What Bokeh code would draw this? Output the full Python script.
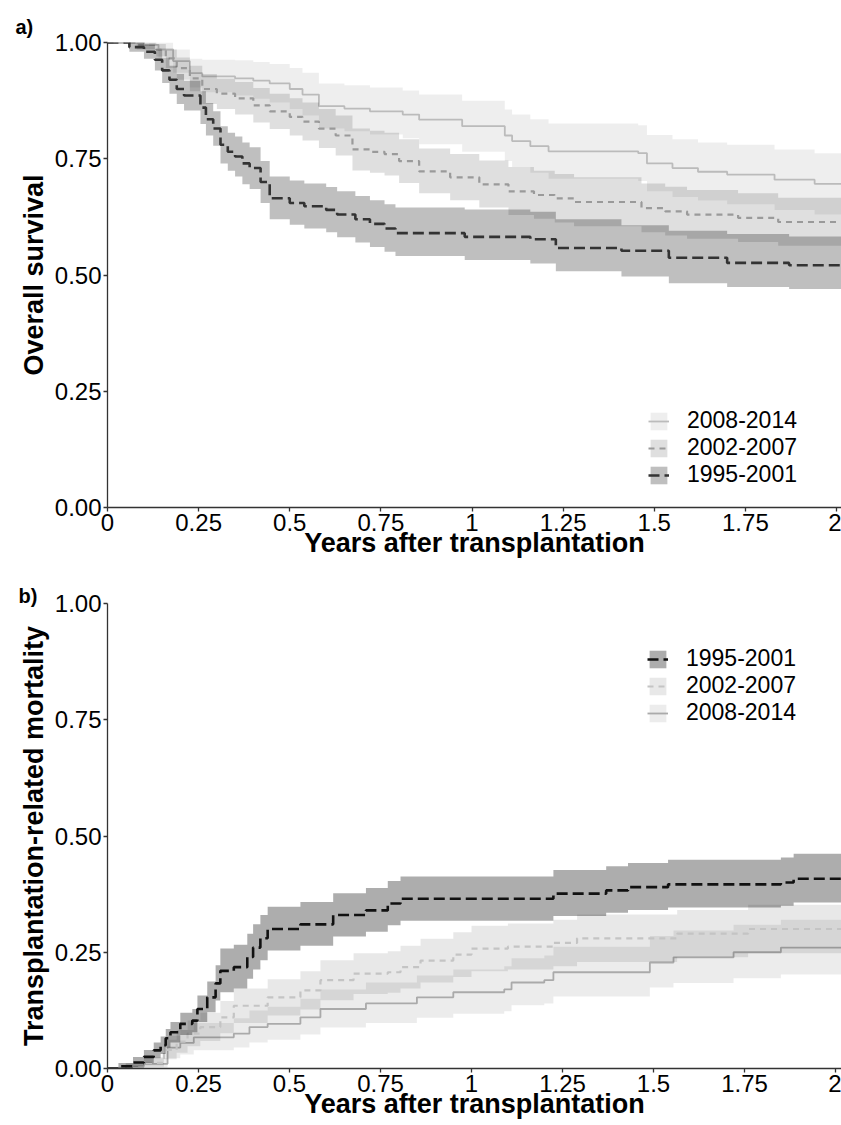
from bokeh.plotting import figure
from bokeh.models import Range1d, FixedTicker, Legend, LegendItem, Title
from bokeh.layouts import column
from bokeh.embed import file_html
from bokeh.resources import INLINE

FONT = "Liberation Sans"

# ---------------- data: panel a (overall survival) ----------------
x_ticks = [0, 0.25, 0.5, 0.75, 1, 1.25, 1.5, 1.75, 2]
x_tick_labels = ["0", "0.25", "0.5", "0.75", "1", "1.25", "1.5", "1.75", "2"]
y_ticks = [0, 0.25, 0.5, 0.75, 1]
y_tick_labels = ["0.00", "0.25", "0.50", "0.75", "1.00"]

os_1995_t = [0, 0.06, 0.10, 0.13, 0.15, 0.17, 0.19, 0.21, 0.255, 0.27, 0.29, 0.31, 0.33, 0.35, 0.37, 0.39, 0.42, 0.445, 0.50, 0.54, 0.60, 0.63, 0.68, 0.72, 0.76, 0.79, 0.98, 1.16, 1.23, 1.41, 1.54, 1.70, 1.87, 2.02]
os_1995_s = [1.0, 0.99, 0.98, 0.963, 0.94, 0.92, 0.90, 0.886, 0.86, 0.835, 0.815, 0.78, 0.765, 0.755, 0.74, 0.73, 0.70, 0.665, 0.655, 0.648, 0.64, 0.63, 0.62, 0.61, 0.60, 0.59, 0.582, 0.577, 0.558, 0.552, 0.537, 0.526, 0.521, 0.521]
os_1995_hi = [1.0, 1.0, 0.995, 0.985, 0.967, 0.95, 0.932, 0.918, 0.895, 0.87, 0.852, 0.82, 0.806, 0.798, 0.785, 0.775, 0.745, 0.712, 0.703, 0.697, 0.689, 0.68, 0.67, 0.661, 0.652, 0.645, 0.641, 0.636, 0.62, 0.607, 0.595, 0.588, 0.583, 0.583]
os_1995_lo = [1.0, 0.98, 0.965, 0.94, 0.913, 0.89, 0.868, 0.854, 0.825, 0.80, 0.778, 0.74, 0.724, 0.712, 0.695, 0.685, 0.655, 0.62, 0.608, 0.60, 0.592, 0.581, 0.57, 0.56, 0.55, 0.541, 0.532, 0.525, 0.508, 0.497, 0.482, 0.474, 0.47, 0.47]

os_2002_t = [0, 0.08, 0.134, 0.16, 0.19, 0.226, 0.26, 0.30, 0.35, 0.40, 0.445, 0.50, 0.535, 0.58, 0.626, 0.672, 0.72, 0.76, 0.80, 0.855, 0.94, 1.02, 1.10, 1.17, 1.227, 1.28, 1.465, 1.53, 1.59, 1.73, 1.84, 2.02]
os_2002_s = [1.0, 0.995, 0.985, 0.966, 0.945, 0.923, 0.90, 0.89, 0.88, 0.865, 0.852, 0.84, 0.83, 0.815, 0.80, 0.77, 0.765, 0.76, 0.745, 0.723, 0.71, 0.695, 0.68, 0.672, 0.665, 0.657, 0.644, 0.637, 0.63, 0.623, 0.614, 0.614]
os_2002_hi = [1.0, 1.0, 0.997, 0.985, 0.968, 0.95, 0.932, 0.922, 0.915, 0.902, 0.89, 0.88, 0.871, 0.857, 0.843, 0.815, 0.81, 0.806, 0.792, 0.772, 0.76, 0.746, 0.732, 0.724, 0.717, 0.71, 0.697, 0.69, 0.683, 0.676, 0.666, 0.666]
os_2002_lo = [1.0, 0.985, 0.97, 0.945, 0.92, 0.895, 0.868, 0.857, 0.845, 0.828, 0.814, 0.80, 0.789, 0.773, 0.757, 0.725, 0.72, 0.714, 0.698, 0.676, 0.661, 0.645, 0.629, 0.621, 0.613, 0.605, 0.592, 0.585, 0.578, 0.571, 0.563, 0.563]

os_2008_t = [0, 0.10, 0.14, 0.18, 0.226, 0.26, 0.35, 0.40, 0.445, 0.50, 0.535, 0.58, 0.65, 0.72, 0.81, 0.855, 0.973, 1.09, 1.11, 1.16, 1.21, 1.456, 1.48, 1.55, 1.62, 1.70, 1.83, 1.94, 2.02]
os_2008_s = [1.0, 0.995, 0.985, 0.96, 0.934, 0.927, 0.923, 0.918, 0.912, 0.90, 0.888, 0.863, 0.858, 0.852, 0.845, 0.834, 0.82, 0.80, 0.788, 0.777, 0.766, 0.762, 0.74, 0.73, 0.722, 0.716, 0.705, 0.696, 0.696]
os_2008_hi = [1.0, 1.0, 1.0, 0.985, 0.965, 0.963, 0.962, 0.958, 0.954, 0.945, 0.935, 0.912, 0.908, 0.903, 0.897, 0.888, 0.875, 0.856, 0.845, 0.835, 0.826, 0.822, 0.801, 0.792, 0.785, 0.78, 0.77, 0.762, 0.762]
os_2008_lo = [1.0, 0.985, 0.967, 0.935, 0.903, 0.893, 0.886, 0.879, 0.871, 0.857, 0.843, 0.815, 0.809, 0.802, 0.794, 0.781, 0.765, 0.745, 0.732, 0.72, 0.707, 0.702, 0.68, 0.668, 0.66, 0.652, 0.64, 0.63, 0.63]

# ---------------- data: panel b (transplantation-related mortality) ----------------
trm_1995_t = [0, 0.03, 0.07, 0.10, 0.127, 0.146, 0.16, 0.173, 0.20, 0.233, 0.247, 0.274, 0.297, 0.31, 0.347, 0.384, 0.40, 0.42, 0.44, 0.53, 0.62, 0.71, 0.77, 0.805, 1.225, 1.37, 1.43, 1.54, 1.85, 1.885, 2.02]
trm_1995_s = [0, 0.005, 0.013, 0.025, 0.039, 0.05, 0.065, 0.078, 0.096, 0.103, 0.128, 0.153, 0.183, 0.21, 0.218, 0.24, 0.26, 0.28, 0.30, 0.31, 0.33, 0.34, 0.355, 0.365, 0.376, 0.383, 0.39, 0.396, 0.40, 0.408, 0.408]
trm_1995_hi = [0, 0.012, 0.025, 0.04, 0.056, 0.069, 0.085, 0.10, 0.12, 0.128, 0.157, 0.187, 0.222, 0.258, 0.266, 0.29, 0.31, 0.33, 0.348, 0.358, 0.377, 0.388, 0.403, 0.413, 0.427, 0.435, 0.442, 0.449, 0.454, 0.462, 0.462]
trm_1995_lo = [0, 0.0, 0.004, 0.012, 0.022, 0.031, 0.045, 0.056, 0.072, 0.078, 0.10, 0.121, 0.146, 0.164, 0.172, 0.193, 0.213, 0.233, 0.254, 0.264, 0.284, 0.294, 0.308, 0.318, 0.328, 0.335, 0.341, 0.346, 0.35, 0.357, 0.357]

trm_2002_t = [0, 0.05, 0.10, 0.155, 0.19, 0.22, 0.255, 0.31, 0.347, 0.44, 0.53, 0.585, 0.676, 0.77, 0.805, 0.86, 0.95, 1.0, 1.1, 1.225, 1.29, 1.565, 1.76, 2.02]
trm_2002_s = [0, 0.005, 0.012, 0.04, 0.058, 0.075, 0.089, 0.11, 0.135, 0.153, 0.168, 0.19, 0.204, 0.207, 0.218, 0.232, 0.245, 0.258, 0.262, 0.27, 0.28, 0.29, 0.30, 0.30]
trm_2002_hi = [0, 0.012, 0.024, 0.062, 0.083, 0.103, 0.12, 0.145, 0.172, 0.192, 0.209, 0.233, 0.248, 0.252, 0.264, 0.279, 0.293, 0.307, 0.312, 0.32, 0.331, 0.341, 0.352, 0.352]
trm_2002_lo = [0, 0.0, 0.004, 0.02, 0.034, 0.048, 0.059, 0.076, 0.098, 0.114, 0.127, 0.147, 0.16, 0.163, 0.172, 0.185, 0.197, 0.209, 0.213, 0.22, 0.229, 0.239, 0.248, 0.248]

trm_2008_t = [0, 0.05, 0.10, 0.165, 0.20, 0.237, 0.347, 0.39, 0.44, 0.53, 0.585, 0.71, 0.85, 0.95, 1.09, 1.11, 1.20, 1.225, 1.49, 1.555, 1.72, 1.85, 2.02]
trm_2008_s = [0, 0.004, 0.01, 0.045, 0.055, 0.067, 0.075, 0.089, 0.096, 0.11, 0.128, 0.14, 0.153, 0.164, 0.17, 0.185, 0.19, 0.207, 0.228, 0.239, 0.25, 0.26, 0.26]
trm_2008_hi = [0, 0.01, 0.022, 0.07, 0.083, 0.098, 0.108, 0.125, 0.133, 0.15, 0.17, 0.185, 0.20, 0.213, 0.22, 0.237, 0.243, 0.262, 0.285, 0.297, 0.309, 0.32, 0.32]
trm_2008_lo = [0, 0.0, 0.002, 0.022, 0.03, 0.039, 0.045, 0.056, 0.062, 0.073, 0.088, 0.098, 0.109, 0.118, 0.123, 0.136, 0.14, 0.155, 0.174, 0.184, 0.194, 0.202, 0.202]

labels = ["1995-2001", "2002-2007", "2008-2014"]
x_title = "Years after transplantation"


def style_axes(p, ylabel):
    p.xaxis.ticker = FixedTicker(ticks=x_ticks)
    p.xaxis.major_label_overrides = {t: s for t, s in zip(x_ticks, x_tick_labels)}
    p.yaxis.ticker = FixedTicker(ticks=y_ticks)
    p.yaxis.major_label_overrides = {t: s for t, s in zip(y_ticks, y_tick_labels)}
    for ax in (p.xaxis[0], p.yaxis[0]):
        ax.axis_line_color = "#333333"
        ax.axis_line_width = 1.3
        ax.major_tick_line_color = "#333333"
        ax.major_tick_line_width = 1.3
        ax.major_tick_out = 4
        ax.major_tick_in = 0
        ax.minor_tick_out = 0
        ax.minor_tick_in = 0
        ax.major_label_text_font = FONT
        ax.major_label_text_font_size = "24px"
        ax.major_label_text_color = "black"
        ax.major_label_standoff = 2
        ax.axis_label_text_font = FONT
        ax.axis_label_text_font_size = "27px"
        ax.axis_label_text_font_style = "bold"
        ax.axis_label_text_color = "black"
    p.yaxis.axis_label = ylabel
    p.yaxis.axis_label_standoff = 3
    p.xaxis.axis_label = x_title
    p.xaxis.axis_label_standoff = -6
    p.xgrid.visible = False
    p.ygrid.visible = False
    p.outline_line_color = None


def add_series(p, t, s, lo, hi, fill_alpha, line_color, dash, width):
    band = p.varea_step(x=t, y1=lo, y2=hi, step_mode="after",
                        fill_color="black", fill_alpha=fill_alpha)
    line = p.step(x=t, y=s, mode="after", line_color=line_color,
                  line_dash=dash, line_width=width)
    return [band, line]


def make_legend(items, loc):
    return Legend(items=items, location=loc, label_text_font=FONT,
                  label_text_font_size="23px", label_text_color="black",
                  glyph_width=21, glyph_height=22, label_height=22,
                  label_standoff=18, spacing=0, padding=0, margin=0,
                  border_line_color=None, background_fill_alpha=0)


def panel_title(text, offset, standoff):
    return Title(text=text, align="left", offset=offset, standoff=standoff,
                 vertical_align="bottom", text_font=FONT, text_font_size="20px",
                 text_font_style="bold", text_color="black")


# ---------------- panel a ----------------
pa = figure(width=841, height=564, output_backend="svg", toolbar_location=None,
            title=panel_title("a)", -92, 10),
            x_range=Range1d(0, 2.0137), y_range=Range1d(0, 1),
            min_border_left=104, min_border_right=0, min_border_top=42, min_border_bottom=57)
style_axes(pa, "Overall survival")

ra08 = add_series(pa, os_2008_t, os_2008_s, os_2008_lo, os_2008_hi, 0.065, "#bbbbbb", "solid", 1.8)
ra02 = add_series(pa, os_2002_t, os_2002_s, os_2002_lo, os_2002_hi, 0.125, "#9a9a9a", "6 5", 2.2)
ra95 = add_series(pa, os_1995_t, os_1995_s, os_1995_lo, os_1995_hi, 0.25, "#333333", "11 5", 2.6)

pa.add_layout(make_legend([
    LegendItem(label=labels[2], renderers=ra08),
    LegendItem(label=labels[1], renderers=ra02),
    LegendItem(label=labels[0], renderers=ra95),
], (541, 19)))

# ---------------- panel b ----------------
pb = figure(width=841, height=561, output_backend="svg", toolbar_location=None,
            title=panel_title("b)", -89, -6),
            x_range=Range1d(0, 2.0165), y_range=Range1d(0, 1),
            min_border_left=107, min_border_right=0, min_border_top=39, min_border_bottom=57)
style_axes(pb, "Transplantation-related mortality")

rb08 = add_series(pb, trm_2008_t, trm_2008_s, trm_2008_lo, trm_2008_hi, 0.075, "#aaaaaa", "solid", 1.8)
rb02 = add_series(pb, trm_2002_t, trm_2002_s, trm_2002_lo, trm_2002_hi, 0.09, "#c4c4c4", "6 5", 2.2)
rb95 = add_series(pb, trm_1995_t, trm_1995_s, trm_1995_lo, trm_1995_hi, 0.32, "#111111", "11 5", 2.6)

pb.add_layout(make_legend([
    LegendItem(label=labels[0], renderers=rb95),
    LegendItem(label=labels[1], renderers=rb02),
    LegendItem(label=labels[2], renderers=rb08),
], (540, 342)))

layout = column(pa, pb, spacing=0)
open("out.html", "w").write(file_html(layout, INLINE))
